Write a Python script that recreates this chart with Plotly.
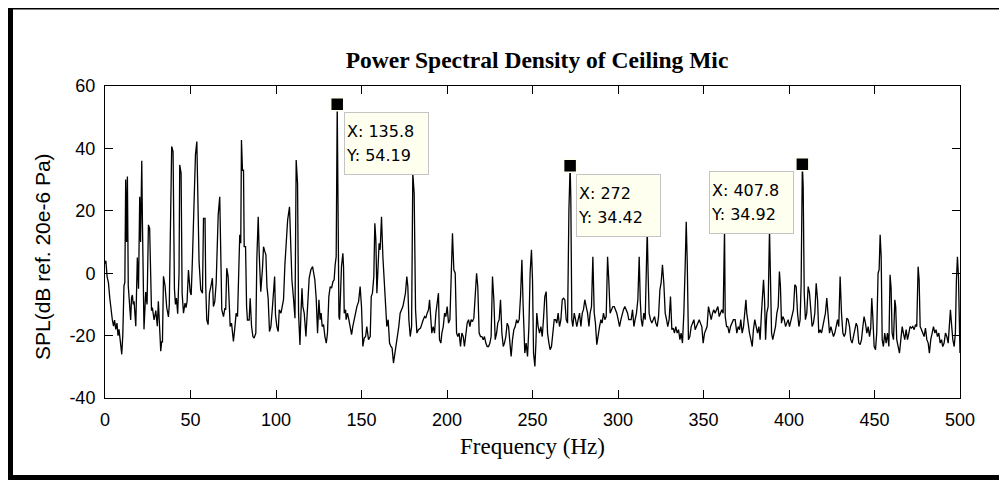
import plotly.graph_objects as go

# ---- data (frequency in Hz, SPL in dB) ----
seg_000_060 = [(0, 3), (0.5, 4), (1.2, -1), (2.0, -3), (2.8, -8), (3.5, -12), (4.3, -15), (5.0, -17), (5.6, -15), (6.3, -18),
               (7.0, -16), (7.6, -20), (8.2, -18), (9.0, -22), (9.8, -26), (10.4, -20), (11.1, -4), (11.6, -3), (12.1, 30), (12.6, 10),
               (13.1, 31), (13.6, -4), (14.2, -8), (15.0, -15), (15.5, -8), (16.0, -7), (16.5, -10), (17.0, -9), (18.0, -17), (18.5, -8),
               (18.9, 5), (19.6, -5), (20.3, 24.5), (20.8, 10), (21.5, 36), (21.9, 16), (22.4, -5), (22.8, -18), (23.3, -12), (23.8, -6),
               (24.6, -10), (25.4, 15.5), (26.1, 14.4), (26.7, -8.5), (27.2, -12), (27.7, -11), (28.7, -15), (29.7, -12), (30.6, -17), (31.2, -9),
               (32.0, -19), (32.6, -25), (33.1, -22), (33.6, -22), (34.2, -1), (35.1, -4), (36.1, -11), (37.1, -14), (37.6, -10), (38.1, 9.6),
               (39.0, 40.6), (39.8, 39), (40.2, 10), (40.6, -5), (41.2, -10), (41.8, -8), (42.5, -13), (43.3, 0), (43.7, 34.7), (44.5, 32),
               (45.1, -6.4), (45.9, -12.8), (46.8, -9.6), (47.4, -11), (48.0, -9), (48.8, 1), (49.8, -6), (50.4, -7), (51.1, 4), (51.9, 17.6),
               (52.9, 38), (53.7, 42.2), (54.3, 27.7), (55.0, 3.7), (56.0, -5.3), (57.0, -6.4), (57.6, 17.6), (58.5, 17.6), (58.9, -4)]

seg_060_122 = [(59.5, -15), (60.3, -16.5), (61.1, -6.4), (61.9, -4.3), (62.8, -1.6), (63.4, -10.7), (64.2, -9.1), (65.0, -3.2), (65.4, 4.8),
               (66.2, 18.7), (67.1, 24.5), (67.7, 8.5), (68.3, -11.7), (69.3, -13.9), (70.1, -11.2), (70.6, -11.7), (71.2, 1.6), (72.0, -1.1),
               (72.6, -12.8), (73.2, -17.1), (74.0, -16), (74.6, -19.2), (75.1, -21.9), (75.9, -17.6), (76.7, -12.8), (77.5, -13.9), (78.1, -1.6),
               (78.8, 12.3), (79.4, 9.6), (79.8, 42.7), (80.4, 33), (81.0, 33), (81.4, 8.5), (82.2, 8.5), (82.8, -10.7), (83.3, -15), (84.3, -15),
               (84.9, -8), (85.7, -17), (86.5, -20.3), (87.2, -20.8), (88.2, -19.2), (88.8, 4.8), (89.6, 18.1), (90.2, 5.9), (91.1, -5.9),
               (92.1, 1.6), (92.7, 8.5), (93.5, 6.9), (94.1, 5.9), (94.7, -4.3), (95.4, -8), (96.2, -18.7), (97.0, -17.1), (97.8, -11.7),
               (98.6, -4.3), (99.2, -1.1), (99.7, -13.3), (100.5, -17.1), (101.3, -18.7), (101.9, -11.7), (102.9, -12.8), (103.6, -10.7),
               (104.4, -8.5), (105.2, 2.7), (106.0, 9.0), (106.8, 17), (107.9, 21.3), (108.5, 9.6), (109.3, -2.1), (110.3, -8.5), (111.1, -14.4),
               (111.8, 36.3), (112.6, 28.8), (113.2, -12.8), (114.0, -23), (114.6, -12.8), (115.2, -4.8), (115.7, -10.7), (116.5, -12.8),
               (117.5, -20.3), (118.5, -10.7), (119.4, -1.6), (120.4, 1.1), (121.4, 2.1)]

seg_122_184 = [(122.7, -2.1), (123.5, -8.0), (124.3, -19.2), (125.1, -8.5), (125.8, -14.9), (126.4, -12.8), (127.0, -17.1), (127.8, -16.5),
               (128.6, -20.3), (129.4, -22.4), (130.1, -19.2), (130.9, -7.5), (131.7, -4.3), (132.5, -4.8), (133.3, -2.7), (134.0, -2.1),
               (134.6, 2.7), (135.2, 5.3), (135.8, 54.19), (136.4, 5.9), (136.8, -13.9), (137.2, -14.9), (137.5, -8.5), (138.3, 2.1),
               (139.1, 6.4), (139.5, 2.1), (139.9, -12.8), (140.7, -11.7), (141.0, -14.9), (141.8, -12.8), (142.6, -14.9), (143.4, -17.1),
               (144.2, -19.7), (144.9, -17.1), (145.7, -14.9), (146.5, -12.8), (147.3, -10.7), (148.3, -9.1), (149.2, -4.3), (150.0, -10.7),
               (150.8, -23.5), (151.6, -20.8), (152.4, -20.3), (153.1, -17.1), (154.1, -21.3), (155.1, -20.3), (155.7, -7.5), (156.4, -6.4),
               (157.2, -1.1), (157.8, 16.0), (158.4, 10.7), (159.0, -6.4), (159.8, 3.7), (160.3, 9.6), (160.9, 7.5), (161.7, 18.1),
               (162.5, 5.3), (163.3, -2.1), (164.0, -9.1), (164.8, -17.1), (165.6, -14.9), (166.4, -22.4), (167.2, -23.5), (167.9, -24),
               (168.7, -28.8), (169.5, -26.1), (170.3, -22.4), (171.1, -20.3), (171.8, -17.1), (172.6, -12.8), (173.4, -11.7), (174.2, -10.7),
               (175.0, -8.5), (175.7, -6.4), (176.5, -1.1), (177.1, -4.3), (177.7, -14.9), (178.5, -20.3), (179.3, -17.1), (180.0, 32),
               (180.8, 25.6), (181.6, -11.7), (182.4, -19.2), (183.3, -18.1)]

seg_184_246 = [(184.5, -17.6), (185.3, -16.0), (186.1, -14.9), (186.9, -13.9), (187.6, -14.4), (188.4, -12.8), (189.2, -11.7), (189.8, -8.5),
               (190.4, -13.9), (191.1, -19.2), (191.9, -17.1), (192.7, -19.2), (193.5, -12.8), (194.3, -8.5), (195.0, -6.4), (195.6, -21.3),
               (196.4, -22.4), (197.0, -19.2), (197.8, -17.1), (198.6, -12.8), (199.3, -13.9), (200.1, -10.7), (200.9, -16.0), (201.7, -14.9),
               (202.4, 2.1), (203.2, 12.8), (204.0, 1.1), (204.8, 0), (205.6, -19.2), (206.3, -20.3), (207.1, -19.2), (207.9, -23.5),
               (208.7, -19.2), (209.5, -20.3), (210.2, -23.5), (211.0, -19.2), (211.8, -16.0), (212.6, -14.9), (213.4, -17.1), (214.1, -14.9),
               (214.9, -15.5), (215.7, -14.4), (216.5, -7.5), (217.3, 0), (218.0, -4.3), (218.8, -19.2), (219.6, -20.3), (220.4, -20.3),
               (221.2, -21.3), (221.9, -20.3), (222.7, -22.4), (223.5, -23.5), (224.3, -23.5), (225.1, -22.4), (225.8, -20.3), (226.6, -1.1),
               (227.4, -8.5), (228.2, -21.3), (229.0, -19.2), (229.7, -16.0), (230.5, -14.9), (231.3, -8.5), (232.1, -19.2), (232.9, -23.5),
               (233.6, -22.4), (234.4, -20.3), (235.2, -16.0), (236.0, -17.1), (236.8, -22.4), (237.5, -26.7), (238.3, -21.3), (239.1, -18.1),
               (239.9, -17.1), (240.7, -14.9), (241.4, -16.0), (242.2, -14.9), (243.0, -7.5), (243.8, 4.3), (244.5, -10), (245.5, -25.6)]

seg_246_307 = [(246.3, -22.4), (247.1, -26.7), (247.9, -17.1), (248.6, 0), (249.4, 7.5), (250.0, -2.1), (250.6, -25.6), (251.4, -29.9),
               (252.0, -22.4), (252.5, -12.8), (253.3, -17.1), (254.1, -19.2), (254.9, -17.1), (255.7, -20.3), (256.4, -14.9), (257.2, -7.5),
               (258.0, -5.9), (258.8, -19.2), (259.6, -22.4), (260.3, -24.5), (261.1, -23.5), (261.9, -19.2), (262.7, -14.9), (263.5, -14.9),
               (264.2, -16.0), (265.0, -12.8), (265.8, -17.1), (266.6, -14.9), (267.4, -8.5), (268.1, -8.0), (268.9, -8.5), (269.7, -14.9),
               (270.5, -16.0), (271.3, 20.3), (272.0, 34.42), (272.4, 24.5), (273.0, -14.9), (273.6, -17.1), (274.4, -12.8), (275.2, -14.9),
               (275.9, -17.1), (276.7, -14.9), (277.5, -12.8), (278.3, -17.1), (279.1, -12.8), (279.8, -11.7), (280.6, -8.5), (281.4, -10.7),
               (282.2, -12.8), (283.0, -17.1), (283.7, -12.8), (284.5, -10.7), (285.3, 5.3), (286.1, -12.8), (286.8, -16.0), (287.6, -22.9),
               (288.4, -19.2), (289.2, -17.1), (290.0, -14.9), (290.7, -16.0), (291.5, -12.8), (292.3, -14.9), (293.1, -13.9), (293.9, 5.3),
               (294.6, -2.1), (295.4, -12.8), (296.2, -11.7), (297.0, -10.7), (297.8, -10.7), (298.5, -11.7), (299.3, -12.8), (300.1, -14.9),
               (300.9, -17.1), (301.7, -14.9), (302.4, -12.8), (303.2, -11.7), (304.0, -10.7), (304.8, -11.7), (305.6, -12.8), (306.3, -14.9)]

seg_307_369 = [(307.7, -14.9), (308.5, -11.7), (309.3, -17.1), (310.0, -14.9), (310.8, -12.8), (311.6, -8.5), (312.4, 5.3), (313.0, -8.5),
               (313.6, -14.9), (314.3, -17.1), (315.1, -12.8), (315.9, -14.9), (316.5, 5.3), (317.1, 14), (317.6, 0), (318.2, -12.8),
               (319.0, -14.9), (319.8, -16.0), (320.6, -14.9), (321.4, -13.9), (322.1, -16.0), (322.9, -17.1), (323.7, -13.9), (324.5, -5.3),
               (325.2, -3.2), (326.0, 2.7), (326.8, -3.2), (327.6, -12.8), (328.4, -14.9), (329.1, -17.1), (329.9, -14.9), (330.7, -7.5),
               (331.5, -18.1), (332.3, -17.6), (333.0, -19.2), (333.8, -17.1), (334.6, -19.2), (335.4, -18.1), (336.2, -21.3), (336.9, -19.2),
               (337.7, -22.4), (338.5, -12.8), (339.3, 2.7), (339.9, 16.5), (340.5, 3.2), (341.2, -21.3), (342.0, -20.3), (342.8, -17.1),
               (343.6, -16.0), (344.4, -14.9), (345.1, -18.1), (345.9, -17.1), (346.7, -16.0), (347.5, -14.9), (348.2, -16.0), (349.0, -17.1),
               (349.8, -22.4), (350.6, -19.2), (351.4, -18.1), (352.1, -17.1), (352.9, -10.7), (353.7, -12.8), (354.5, -14.9), (355.3, -12.8),
               (356.0, -11.7), (356.8, -12.8), (357.6, -11.7), (358.4, -10.7), (359.2, -13.9), (359.9, -12.8), (360.7, -11.7), (361.5, -12.8),
               (362.3, 14), (362.7, -13.9), (363.5, -17.1), (364.2, -17.1), (365.0, -19.2), (365.8, -17.1), (366.6, -16.0), (367.5, -14.9),
               (368.5, -14.9)]

seg_369_433 = [(369.5, -19.2), (370.3, -17.1), (371.1, -18.1), (371.8, -14.9), (372.6, -19.2), (373.4, -17.1), (374.2, -12.8), (374.8, -8.5),
               (375.3, -12.8), (376.1, -17.1), (376.9, -19.2), (377.7, -21.3), (378.5, -23.5), (379.2, -18.1), (380.0, -14.9), (380.8, -17.1),
               (381.6, -19.2), (382.4, -17.1), (383.1, -21.3), (383.9, -12.8), (384.5, -7.5), (385.1, -2.1), (385.7, -8.5), (386.3, -21.3),
               (387.0, -12.8), (387.8, -10.7), (388.6, 14), (389.2, -2.1), (389.8, -19.2), (390.5, -21.3), (391.3, -19.2), (392.1, -17.1),
               (392.9, -12.8), (393.7, -10.7), (394.4, 0.5), (395.0, -4.3), (395.6, -16.0), (396.4, -13.9), (397.2, -14.9), (398.0, -17.1),
               (398.7, -16.0), (399.5, -14.9), (400.3, -17.1), (401.1, -14.9), (401.9, -13.9), (402.6, -11.7), (403.4, -3.7), (404.2, -4.3),
               (405.0, -12.8), (405.8, -17.1), (406.5, -14.9), (407.1, -3.2), (407.8, 34.92), (408.3, 27.7), (408.9, -6.4), (409.6, -14.9),
               (410.4, -12.8), (411.2, -4.3), (412.0, -6.4), (412.8, -12.8), (413.5, -17.1), (414.3, -16.0), (415.1, -12.8), (415.9, -3.2),
               (416.7, -8.5), (417.4, -19.2), (418.2, -18.1), (419.0, -19.2), (419.8, -17.1), (420.6, -14.9), (421.3, -12.8), (422.1, -8.0),
               (422.9, -14.9), (423.7, -19.2), (424.5, -17.1), (425.2, -19.2), (426.0, -20.3), (426.8, -19.2), (427.6, -17.1), (428.4, -14.9),
               (429.1, -17.1), (429.9, -1.1), (430.7, -12.8), (431.5, -19.2), (432.3, -20.3)]

seg_433_500 = [(433.0, -19.2), (433.8, -14.4), (434.6, -14.9), (435.4, -17.1), (436.1, -21.3), (436.9, -22.4), (437.7, -20.3), (438.5, -19.2),
               (439.3, -16.0), (440.0, -17.1), (440.8, -22.4), (441.6, -22.9), (442.4, -21.3), (443.2, -17.1), (443.9, -13.9), (444.7, -16.0),
               (445.5, -19.2), (446.3, -17.1), (447.1, -20.3), (447.8, -17.6), (448.4, -8.0), (449.0, -13.9), (449.8, -23.5), (450.6, -24.5),
               (451.3, -19.2), (452.1, 0), (452.7, 1.1), (453.3, 12.3), (453.9, 5.3), (454.5, -21.3), (455.2, -23.5), (456.0, -19.2),
               (456.8, -22.4), (457.6, -19.2), (458.4, -23.5), (459.1, -0.5), (459.7, -4.8), (460.3, -19.2), (461.1, -21.3), (461.9, -8.5),
               (462.4, -10.7), (463.0, -21.3), (463.8, -23.5), (464.6, -25.6), (465.4, -21.3), (466.2, -17.1), (466.9, -19.2), (467.7, -21.3),
               (468.5, -18.1), (469.3, -21.3), (470.1, -19.2), (470.8, -17.1), (471.6, -17.6), (472.4, -17.1), (473.2, -18.1), (474.0, -16.5),
               (474.7, -17.1), (475.5, 2.1), (476.1, -2.1), (476.7, -17.1), (477.5, -18.1), (478.2, -19.2), (479.0, -20.3), (479.8, -17.6),
               (480.6, -21.3), (481.4, -22.4), (482.1, -25.6), (482.9, -21.3), (483.7, -19.2), (484.5, -17.1), (485.3, -19.2), (486.0, -18.1),
               (486.8, -20.3), (487.6, -19.2), (488.4, -22.4), (489.2, -21.3), (489.9, -23.5), (490.7, -22.4), (491.5, -19.2), (492.3, -20.3),
               (493.1, -22.4), (493.8, -14.9), (494.4, -11.7), (495.0, -16.0), (495.8, -21.3), (496.6, -23.5), (497.3, -19.2), (497.9, -2.1),
               (498.5, 5.3), (499.1, -1.1), (499.7, -21.3), (500.0, -25.6)]

# data tips
tip_freq = [135.8, 272, 407.8]
tip_spl = [54.19, 34.42, 34.92]

x_ticks = [0, 50, 100, 150, 200, 250, 300, 350, 400, 450, 500]
y_ticks = [-40, -20, 0, 20, 40, 60]

title_text = "Power Spectral Density of Ceiling Mic"
x_title = "Frequency (Hz)"
y_title = "SPL(dB ref. 20e-6 Pa)"

# ---- build ----
segments = [seg_000_060, seg_060_122, seg_122_184, seg_184_246,
            seg_246_307, seg_307_369, seg_369_433, seg_433_500]
freq = [p[0] for s in segments for p in s]
spl = [p[1] for s in segments for p in s]

SERIF = "Liberation Serif, Times New Roman, serif"
SANS = "Liberation Sans, Arial, sans-serif"
TIPFONT = "DejaVu Sans, Verdana, sans-serif"

# The page body adds an 8 px offset; layout numbers below are page pixels.
OFF = 8
FIG_W, FIG_H = 1007 - OFF, 480 - OFF
PLOT_L, PLOT_R, PLOT_T, PLOT_B = 105, 960, 86, 398       # page pixels
PW, PH = PLOT_R - PLOT_L, PLOT_B - PLOT_T


def px(xp):
    return (xp - PLOT_L) / PW


def py(yp):
    return (PLOT_B - yp) / PH


fig = go.Figure()
fig.add_trace(go.Scatter(x=freq, y=spl, mode="lines",
                         line=dict(color="black", width=1.3), showlegend=False,
                         hoverinfo="skip"))
fig.add_trace(go.Scatter(x=tip_freq, y=tip_spl, mode="markers",
                         marker=dict(symbol="square", size=13, color="black",
                                     line=dict(color="#fffff0", width=1.5)),
                         showlegend=False, hoverinfo="skip"))

# datatip boxes (placement: right, right, left of the point)
placement = [("left", 7, -8), ("left", 6, -8), ("right", -8, -7)]
span = '<span style="font-size:16px">{}</span>'
for fx, fy, (anch, dx, dy) in zip(tip_freq, tip_spl, placement):
    txt = span.format(f"X: {fx:g}") + "<br>" + span.format(f"Y: {fy:.2f}")
    fig.add_annotation(x=fx, y=fy, xref="x", yref="y", showarrow=False,
                       text=txt, align="left", valign="middle",
                       xanchor=anch, yanchor="top", xshift=dx, yshift=dy,
                       width=81, height=59, borderpad=1,
                       bgcolor="#fffff0", bordercolor="#c4c4c4", borderwidth=1,
                       font=dict(family=TIPFONT, size=19, color="black"))

fig.add_annotation(text=x_title, xref="paper", yref="paper", x=px(532), y=py(447),
                   xanchor="center", yanchor="middle", showarrow=False,
                   font=dict(family=SERIF, size=23, color="black"))
fig.add_annotation(text=y_title, xref="paper", yref="paper", x=px(42), y=py(257),
                   xanchor="center", yanchor="middle", showarrow=False, textangle=-90,
                   font=dict(family=SANS, size=21, color="black"))

# outer frame of the figure window
fig.add_shape(type="rect", xref="paper", yref="paper",
              x0=px(10.5), x1=px(1002.5), y0=py(477.5), y1=py(7),
              line=dict(color="black", width=5), fillcolor="rgba(0,0,0,0)", layer="above")

axis_common = dict(showgrid=False, zeroline=False, showline=True, linecolor="black",
                   linewidth=1, mirror="ticks", ticks="inside", ticklen=8,
                   tickcolor="black", tickwidth=1,
                   tickfont=dict(family=SANS, size=18, color="black"))

fig.update_layout(
    width=FIG_W, height=FIG_H,
    margin=dict(l=PLOT_L - OFF, r=FIG_W - (PLOT_R - OFF), t=PLOT_T - OFF,
                b=FIG_H - (PLOT_B - OFF), pad=0),
    paper_bgcolor="white", plot_bgcolor="white",
    title=dict(text=f"<b>{title_text}</b>", x=px(537), xref="paper", xanchor="center",
               y=1 - (60 - OFF) / FIG_H, yref="container", yanchor="middle",
               font=dict(family=SERIF, size=23.5, color="black")),
    xaxis=dict(range=[0, 500], tickvals=x_ticks, ticktext=[str(v) for v in x_ticks],
               ticklabelstandoff=5, **axis_common),
    yaxis=dict(range=[-40, 60], tickvals=y_ticks, ticktext=[str(v) for v in y_ticks],
               ticklabelstandoff=5, **axis_common),
    showlegend=False,
)

fig.write_html("out.html")
